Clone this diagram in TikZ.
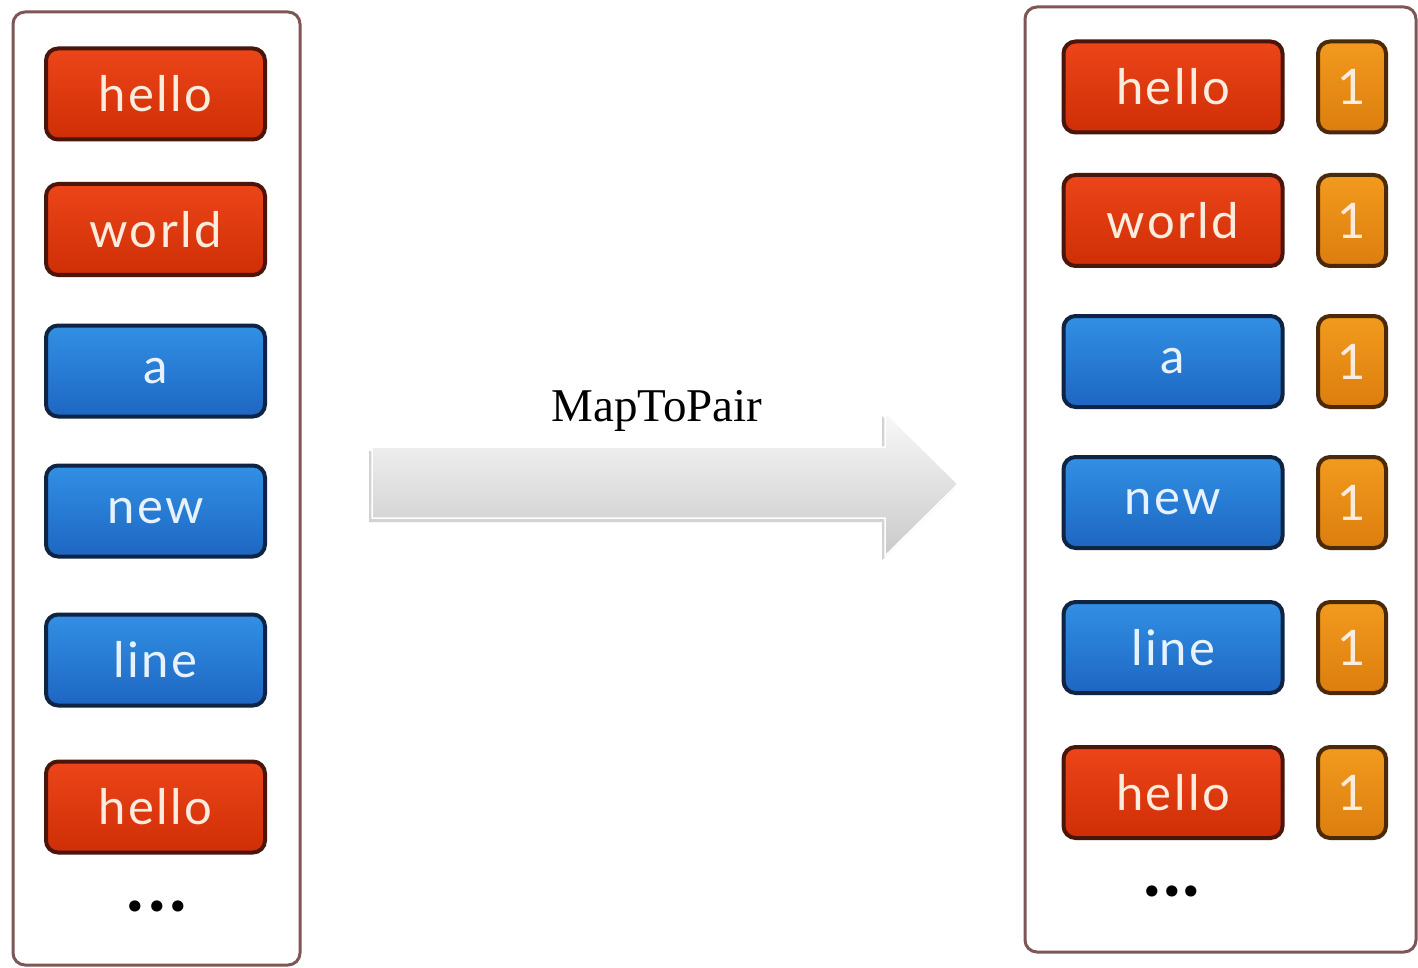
\documentclass[tikz,border=0pt]{standalone}
\usepackage{fontspec}
\setmainfont{Liberation Serif}
\newfontfamily\tagfont[LetterSpace=5]{Lato}
\newfontfamily\dotfont{Lato}
\definecolor{frameline}{HTML}{7E5656}
\definecolor{redtop}{HTML}{EC4519}
\definecolor{redbot}{HTML}{CF2E06}
\definecolor{redline}{HTML}{4A150A}
\definecolor{bluetop}{HTML}{3290E4}
\definecolor{bluebot}{HTML}{1D66C2}
\definecolor{blueline}{HTML}{0E2442}
\definecolor{orangetop}{HTML}{F29A1E}
\definecolor{orangebot}{HTML}{DC7E0E}
\definecolor{orangeline}{HTML}{4A2A08}
\definecolor{tagtext}{HTML}{FBECDD}
\definecolor{bluetext}{HTML}{E6F3FF}
\begin{document}
\begin{tikzpicture}[x=1pt,y=1pt,
  container/.style={draw=frameline, line width=3pt, fill=white, rounded corners=12pt},
  tagbox/.style={rounded corners=12pt, line width=4pt, inner sep=0pt,
    font=\tagfont\fontsize{49}{51}\selectfont},
  redtag/.style={tagbox, draw=redline, top color=redtop, bottom color=redbot,
    text=tagtext, minimum width=219pt, minimum height=91pt},
  bluetag/.style={tagbox, draw=blueline, top color=bluetop, bottom color=bluebot,
    text=bluetext, minimum width=219pt, minimum height=91pt},
  onetag/.style={tagbox, draw=orangeline, top color=orangetop, bottom color=orangebot,
    text=tagtext, minimum width=68pt, minimum height=91pt},
  more/.style={font=\dotfont\bfseries\fontsize{74}{74}\selectfont, text=black}
]
% canvas
\fill[white] (0,0) rectangle (1418,-968);
\useasboundingbox (0,0) rectangle (1418,-968);

% input column
\draw[container] (13,-12) rectangle (300,-965);
\node[redtag]  (l1) at (155.5,-94)   {hello};
\node[redtag]  (l2) at (155.5,-229.5){world};
\node[bluetag] (l3) at (155.5,-371)  {a};
\node[bluetag] (l4) at (155.5,-511)  {new};
\node[bluetag] (l5) at (155.5,-660)  {line};
\node[redtag]  (l6) at (155.5,-807)  {hello};
\node[more]    (l7) at (157,-906)    {.\kern4pt.\kern4pt.};

% output column of pairs
\draw[container] (1025,-7) rectangle (1416,-952);
\node[redtag]  (r1) at (1173,-87)    {hello};
\node[redtag]  (r2) at (1173,-220.5) {world};
\node[bluetag] (r3) at (1173,-361.5) {a};
\node[bluetag] (r4) at (1173,-502.5) {new};
\node[bluetag] (r5) at (1173,-647.5) {line};
\node[redtag]  (r6) at (1173,-792.5) {hello};
\node[more]    (r7) at (1172,-891)   {.\kern2pt.\kern2pt.};
\node[onetag]  (o1) at (1352,-87)    {1};
\node[onetag]  (o2) at (1352,-220.5) {1};
\node[onetag]  (o3) at (1352,-361.5) {1};
\node[onetag]  (o4) at (1352,-502.5) {1};
\node[onetag]  (o5) at (1352,-647.5) {1};
\node[onetag]  (o6) at (1352,-792.5) {1};

% transformation arrow
\fill[gray!50, opacity=0.7]
  (369,-451) -- (882,-451) -- (882,-416) -- (955,-488) -- (882,-560)
  -- (882,-522) -- (369,-522) -- cycle;
\draw[white, line width=1.5pt, top color=gray!5, bottom color=gray!42]
  (372,-447) -- (885,-447) -- (885,-412) -- (958,-484) -- (885,-556)
  -- (885,-518) -- (372,-518) -- cycle;
\node[font=\fontsize{47}{49}\selectfont] (op) at (657,-411) {MapToPair};
\end{tikzpicture}
\end{document}
